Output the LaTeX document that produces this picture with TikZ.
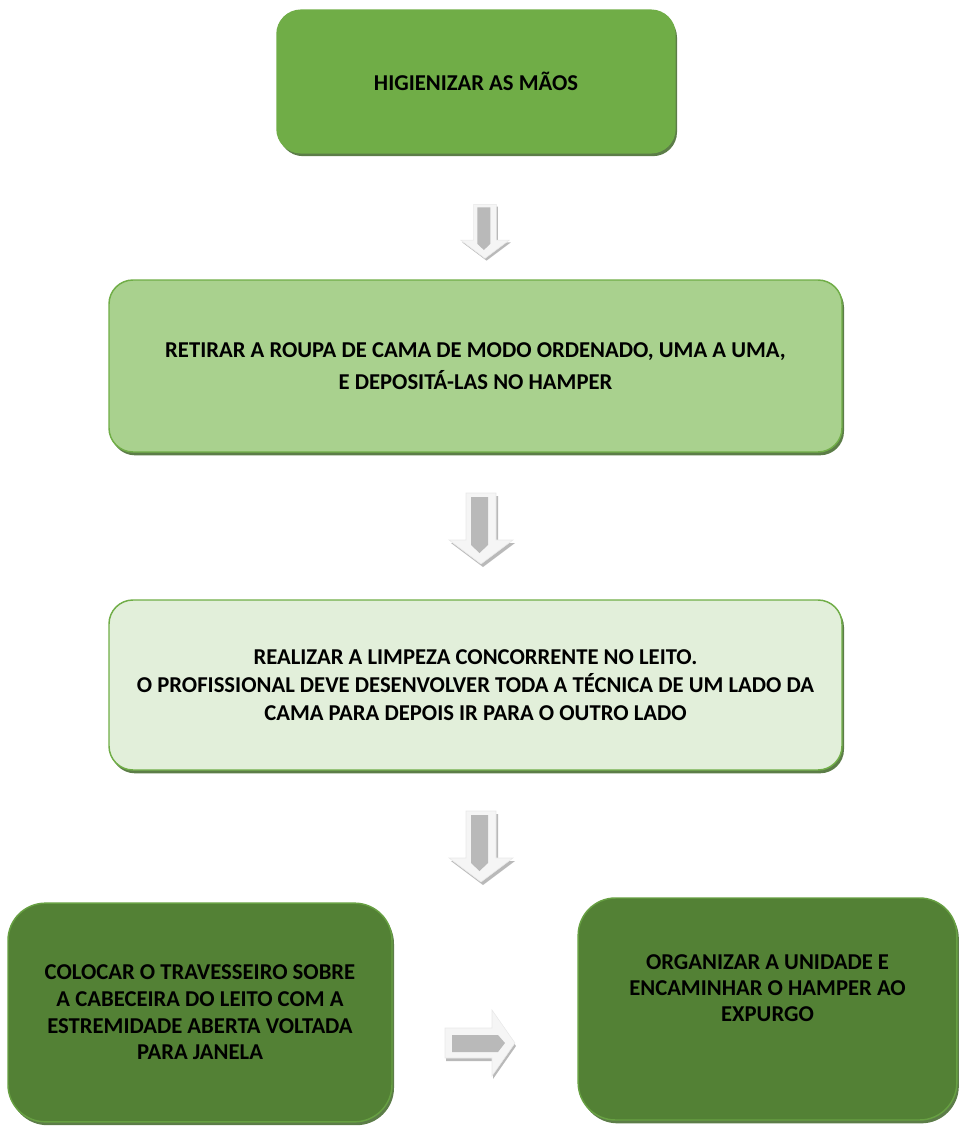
\documentclass[tikz,border=0pt]{standalone}
\usepackage{fontspec}
\setmainfont{Carlito}
\usetikzlibrary{shadows}

\definecolor{verde}{HTML}{70AD47}
\definecolor{verdeclaro}{HTML}{A9D18E}
\definecolor{verdepalido}{HTML}{E2EFDA}
\definecolor{verdeescuro}{HTML}{538135}
\definecolor{sombra}{HTML}{3F6628}

\tikzset{
  caixa/.style={draw=verde, line width=1.1pt, rounded corners=18pt, align=center,
    text=black, font=\fontsize{17}{21}\selectfont\bfseries,
    drop shadow={shadow xshift=1.5pt, shadow yshift=-2.5pt, fill=sombra, opacity=0.85}},
  rotulo/.style={align=center, text=black, font=\fontsize{17}{19.5}\selectfont\bfseries},
  % seta em bloco para baixo
  setabaixo/.pic={
    \fill[gray!55] (-13,-32) -- (17,-32) -- (17,15) -- (34,15) -- (2,39) -- (-30,15) -- (-13,15) -- cycle;
    \filldraw[fill=gray!8, draw=gray!18, line width=0.4pt] (-15,-35) -- (15,-35) -- (15,12) -- (32,12) -- (0,36) -- (-32,12) -- (-15,12) -- cycle;
    \fill[gray!55] (-10,-31) -- (7,-31) -- (7,17) -- (-1.5,25) -- (-10,17) -- cycle;
  },
  % seta em bloco para a direita
  setadireita/.pic={
    \fill[gray!55] (-34,-12) -- (13,-12) -- (13,-30) -- (36,3) -- (13,36) -- (13,18) -- (-34,18) -- cycle;
    \filldraw[fill=gray!8, draw=gray!18, line width=0.4pt] (-35,-15) -- (12,-15) -- (12,-33) -- (35,0) -- (12,33) -- (12,15) -- (-35,15) -- cycle;
    \fill[gray!55] (-28,-8) -- (18,-8) -- (25,0) -- (18,9) -- (-28,9) -- cycle;
  },
}

\begin{document}
\begin{tikzpicture}[x=0.75pt, y=-0.75pt]
    \useasboundingbox (0,0) rectangle (958,1128);

    %CAIXAS
    \node[caixa, fill=verde, draw=verde, minimum width=298.5pt, minimum height=107pt] (higienizar) at (476,81.5) {HIGIENIZAR AS MÃOS};

    \node[caixa, fill=verdeclaro, minimum width=549.75pt, minimum height=129pt, font=\fontsize{17}{24.5}\selectfont\bfseries] (retirar) at (475.5,366) {RETIRAR A ROUPA DE CAMA DE MODO ORDENADO, UMA A UMA,\\E DEPOSITÁ-LAS NO HAMPER};

    \node[caixa, fill=verdepalido, minimum width=549.75pt, minimum height=127.5pt] (limpeza) at (475.5,685) {REALIZAR A LIMPEZA CONCORRENTE NO LEITO.\\O PROFISSIONAL DEVE DESENVOLVER TODA A TÉCNICA DE UM LADO DA\\CAMA PARA DEPOIS IR PARA O OUTRO LADO};

    \node[caixa, fill=verdeescuro, draw=verde!70!verdeescuro, rounded corners=28pt, minimum width=288pt, minimum height=164pt, font=\fontsize{17}{20}\selectfont\bfseries] (travesseiro) at (200,1012.5) {COLOCAR O TRAVESSEIRO SOBRE\\A CABECEIRA DO LEITO COM A\\ESTREMIDADE ABERTA VOLTADA\\PARA JANELA};

    \node[caixa, fill=verdeescuro, draw=verde!70!verdeescuro, rounded corners=28pt, minimum width=284pt, minimum height=166.5pt,
      label={[rotulo, yshift=15.75pt]center:ORGANIZAR A UNIDADE E\\ENCAMINHAR O HAMPER AO\\EXPURGO}] (organizar) at (767.5,1009) {};

    %SETAS
    \pic[scale=0.76] at (485,231) {setabaixo};
    \pic at (481,528) {setabaixo};
    \pic at (481,846) {setabaixo};
    \pic at (480,1043) {setadireita};

\end{tikzpicture}
\end{document}
